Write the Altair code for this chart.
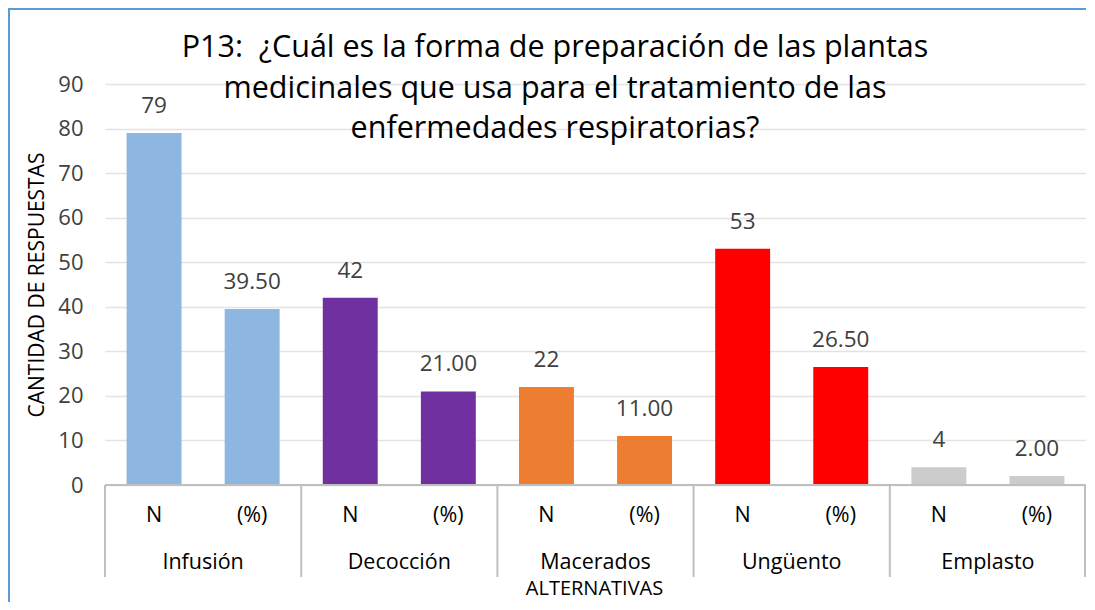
import altair as alt
import pandas as pd

groups = ["Infusión", "Decocción", "Macerados", "Ungüento", "Emplasto"]
subs = ["N", "(%)"]
n_values = [79, 42, 22, 53, 4]
pct_values = [39.5, 21.0, 11.0, 26.5, 2.0]
colors = ["#8DB6E0", "#7030A0", "#ED7D31", "#FF0000", "#CCCCCC"]
title_lines = ["P13:\u00a0 ¿Cuál es la forma de preparación de las plantas",
               "medicinales que usa para el tratamiento de las",
               "enfermedades respiratorias?"]
y_title = "CANTIDAD DE RESPUESTAS"
x_title = "ALTERNATIVAS"

rows = []
for g, n, p in zip(groups, n_values, pct_values):
    rows.append({"grupo": g, "sub": "N", "valor": n, "label": f"{n:d}"})
    rows.append({"grupo": g, "sub": "(%)", "valor": p, "label": f"{p:.2f}"})
df = pd.DataFrame(rows)
gdf = pd.DataFrame({"grupo": groups})
one = gdf.head(1)

FONT = "Open Sans"
W, H = 981, 401
GRAY = "#404040"

gscale = alt.Scale(domain=groups, paddingInner=0, paddingOuter=0)
xg = alt.X("grupo:N", sort=groups, scale=gscale, axis=None)
xo = alt.XOffset("sub:N", sort=subs,
                 scale=alt.Scale(domain=subs, paddingInner=0.44, paddingOuter=0.22))
color = alt.Color("grupo:N", scale=alt.Scale(domain=groups, range=colors), legend=None)
yscale = alt.Scale(domain=[0, 90])

bars = alt.Chart(df).mark_bar().encode(
    x=xg, xOffset=xo,
    y=alt.Y("valor:Q", scale=yscale,
            axis=alt.Axis(values=list(range(0, 100, 10)), title=y_title,
                          domain=False, ticks=False, grid=True, gridColor="#E3E3E3",
                          gridWidth=1.5, labelFontSize=22, labelColor=GRAY,
                          labelFont=FONT, labelPadding=22, titleFont=FONT,
                          titleFontSize=21, titleFontWeight="normal", titleColor="#000000",
                          titlePadding=10)),
    color=color,
)

vals = alt.Chart(df).mark_text(font=FONT, fontSize=22.5, color=GRAY, dy=-27).encode(
    x=xg, xOffset=xo, y=alt.Y("valor:Q", scale=yscale), text="label:N")

sublab = alt.Chart(df).mark_text(font=FONT, fontSize=21.5, color="#000000").encode(
    x=xg, xOffset=xo, y=alt.value(H + 31), text="sub:N")

glab = alt.Chart(gdf).mark_text(font=FONT, fontSize=21.5, color="#000000").encode(
    x=alt.X("grupo:N", sort=groups, scale=gscale, axis=None, bandPosition=0.5),
    y=alt.value(H + 78), text="grupo:N")

seps = alt.Chart(gdf).mark_rule(color="#BFBFBF", strokeWidth=2).encode(
    x=alt.X("grupo:N", sort=groups, scale=gscale, axis=None, bandPosition=0),
    y=alt.value(H), y2=alt.value(H + 92))

last_sep = alt.Chart(one).mark_rule(color="#BFBFBF", strokeWidth=2).encode(
    x=alt.value(W - 1), y=alt.value(H), y2=alt.value(H + 92))

baseline = alt.Chart(one).mark_rule(color="#BFBFBF", strokeWidth=2).encode(
    x=alt.value(0), x2=alt.value(W), y=alt.value(H))

xtitle = alt.Chart(one).mark_text(font=FONT, fontSize=20, color="#000000").encode(
    x=alt.value(W / 2 - 1), y=alt.value(H + 104), text=alt.value(x_title))

title = alt.Chart(one).mark_text(font=FONT, fontSize=30.5, color="#000000",
                                 baseline="alphabetic", lineHeight=40.5,
                                 text=title_lines).encode(
    x=alt.value(450), y=alt.value(-27))

frame = alt.Chart(one).mark_rule(color="#5B9BD5", strokeWidth=2).encode(
    x=alt.value(-97), x2=alt.value(W), y=alt.value(-75))
frame2 = alt.Chart(one).mark_rule(color="#5B9BD5", strokeWidth=2).encode(
    x=alt.value(-96), y=alt.value(-76), y2=alt.value(H + 117))

chart = alt.layer(bars, vals, sublab, glab, seps, last_sep, baseline, xtitle, title,
                  frame, frame2).properties(
    width=W, height=H,
).configure(
    autosize=alt.AutoSizeParams(type="none"),
    padding={"left": 97, "top": 76, "right": 0, "bottom": 117},
    background="white",
    view=alt.ViewConfig(stroke=None),
)

chart.save("out.html", embed_options={"renderer": "svg", "actions": False})
